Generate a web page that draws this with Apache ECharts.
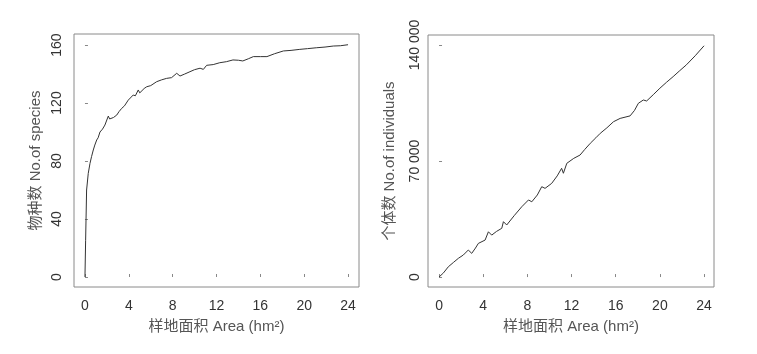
<!DOCTYPE html>
<html>
<head>
<meta charset="utf-8">
<script src="https://cdn.jsdelivr.net/npm/echarts@6/dist/echarts.min.js"></script>
<style>
  html, body { margin: 0; padding: 0; background: #fff; }
  #main { width: 757px; height: 354px; }
</style>
</head>
<body>
<div id="main"></div>
<script>
// 物种-面积曲线
var areaSp = [0, 0.06, 0.15, 0.3, 0.46, 0.6, 0.76, 0.9, 1.07, 1.2, 1.37, 1.6, 1.82, 2.0, 2.13, 2.25, 2.43, 2.6, 2.9, 3.1, 3.35, 3.6, 3.95, 4.1, 4.4, 4.6, 4.86, 5.0, 5.17, 5.4, 5.63, 6.0, 6.54, 7.0, 7.45, 7.9, 8.37, 8.67, 9.1, 9.58, 10.0, 10.5, 10.8, 11.1, 11.7, 12.3, 12.9, 13.5, 14.0, 14.4, 14.9, 15.36, 16.0, 16.6, 17.3, 18.1, 18.8, 19.6, 20.3, 21.1, 21.9, 22.65, 23.3, 24];
var species = [0, 25, 60, 71.5, 78.4, 83, 87.6, 91, 94.5, 96, 100, 102, 104.8, 105, 111, 109, 109.4, 110, 111.7, 114, 116.3, 118, 122, 121, 125.5, 125, 129, 127, 127.8, 130, 131.2, 132, 134.7, 136, 137, 137.5, 140.5, 138.6, 140, 141.6, 143, 144, 143.2, 146, 146.5, 147.8, 148.5, 149.7, 149.5, 149, 150.5, 152, 152, 152, 154, 155.9, 156.3, 157, 157.5, 158.1, 158.6, 159.3, 159.5, 160.2];

// 个体数-面积曲线
var areaInd = [0, 0.4, 0.84, 1.3, 1.75, 2.2, 2.65, 2.96, 3.3, 3.56, 4.17, 4.47, 4.77, 5.2, 5.68, 5.83, 6.13, 6.8, 7.49, 8.1, 8.4, 8.9, 9.3, 9.6, 10.2, 10.7, 11.1, 11.26, 11.57, 12.2, 12.77, 13.2, 13.7, 14.2, 14.6, 15.2, 15.8, 16.4, 17.3, 17.7, 18.05, 18.5, 18.8, 19.4, 20, 20.6, 21.2, 21.8, 22.4, 23.2, 24];
var individuals = [0, 2500, 6200, 8800, 11300, 13300, 16300, 14300, 17500, 20300, 22300, 27300, 25300, 27500, 29400, 33400, 31400, 37000, 42400, 46500, 45400, 49500, 54500, 53500, 56500, 61000, 65600, 62600, 68600, 71600, 73600, 77000, 80700, 84000, 86700, 90000, 93700, 95700, 97200, 100500, 104800, 106800, 106200, 110000, 113900, 117500, 120900, 124500, 128000, 133500, 139500];

var xTicks = [0, 4, 8, 12, 16, 20, 24];
var spTicks = [0, 40, 80, 120, 160];
var indTicks = [0, 70000, 140000];

var xTitle = '样地面积 Area (hm²)';
var spTitle = '物种数 No.of species';
var indTitle = '个体数 No.of individuals';

function pairs(xs, ys) {
    var out = [];
    for (var i = 0; i < xs.length; i++) out.push([xs[i], ys[i]]);
    return out;
}

function fmtThousand(v) {
    return String(v).replace(/\B(?=(\d{3})+(?!\d))/g, ' ');
}

var font = 'Liberation Sans, Arial, sans-serif';
var cjkFont = 'Liberation Sans, Noto Sans CJK SC, sans-serif';

function xAxisOf(idx, min, max) {
    return {
        type: 'value', gridIndex: idx, min: min, max: max,
        name: xTitle, nameLocation: 'middle', nameGap: 32,
        nameTextStyle: { fontFamily: cjkFont, fontSize: 15, color: '#555' },
        axisLine: { show: false },
        axisTick: { show: true, inside: true, length: 3, customValues: xTicks, lineStyle: { color: '#888' } },
        axisLabel: { customValues: xTicks, margin: 12, fontFamily: font, fontSize: 14, color: '#333' },
        splitLine: { show: false }
    };
}

function yAxisOf(idx, min, max, ticks, title, fmt, margin, gap) {
    return {
        type: 'value', gridIndex: idx, min: min, max: max,
        name: title, nameLocation: 'middle', nameGap: gap, nameRotate: 90,
        nameTextStyle: { fontFamily: cjkFont, fontSize: 15, color: '#555' },
        axisLine: { show: false },
        axisTick: { show: true, inside: true, length: 3, customValues: ticks, lineStyle: { color: '#888' } },
        axisLabel: { customValues: ticks, rotate: 90, margin: margin, fontFamily: font, fontSize: 14, color: '#333', formatter: fmt },
        splitLine: { show: false }
    };
}

var chart = echarts.init(document.getElementById('main'));
var option = {
    animation: false,
    grid: [
        { left: 74, top: 34, width: 285, height: 253, show: true, borderColor: '#8a8a8a', borderWidth: 1 },
        { left: 428, top: 35, width: 286, height: 252, show: true, borderColor: '#8a8a8a', borderWidth: 1 }
    ],
    xAxis: [
        xAxisOf(0, -1, 25),
        xAxisOf(1, -1, 24.9)
    ],
    yAxis: [
        yAxisOf(0, -6.9, 167.6, spTicks, spTitle, function (v) { return String(v); }, 10, 31),
        yAxisOf(1, -6000, 146000, indTicks, indTitle, fmtThousand, 6, 31)
    ],
    series: [
        {
            type: 'line', xAxisIndex: 0, yAxisIndex: 0,
            data: pairs(areaSp, species),
            showSymbol: false,
            lineStyle: { color: '#333', width: 1 }
        },
        {
            type: 'line', xAxisIndex: 1, yAxisIndex: 1,
            data: pairs(areaInd, individuals),
            showSymbol: false,
            lineStyle: { color: '#333', width: 1 }
        }
    ]
};
chart.setOption(option);
</script>
</body>
</html>
